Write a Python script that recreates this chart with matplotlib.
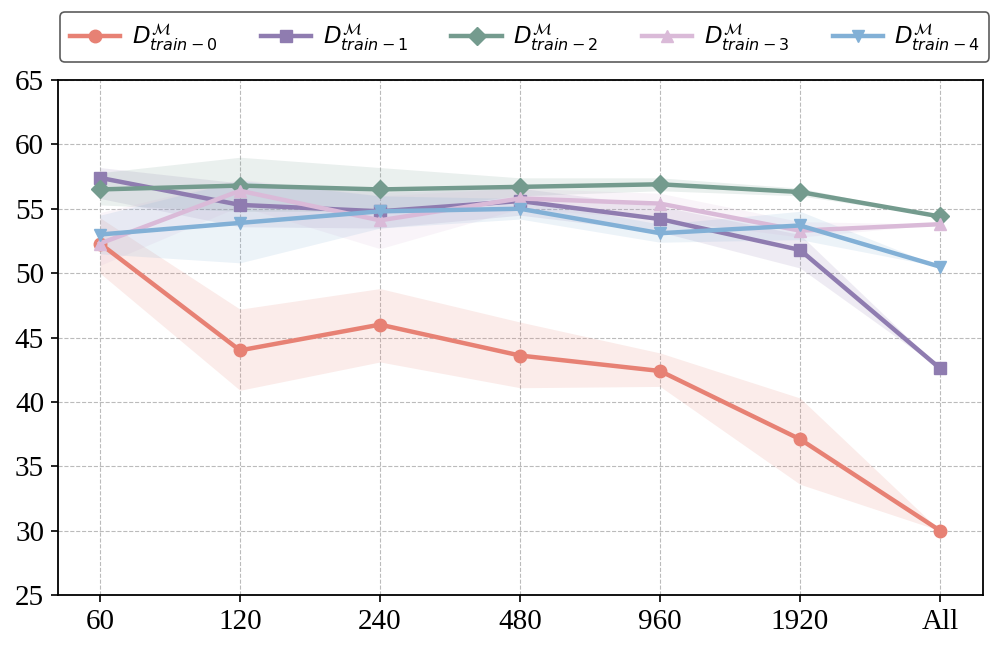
import matplotlib
matplotlib.use("Agg")
import matplotlib.pyplot as plt
import numpy as np

categories = ["60", "120", "240", "480", "960", "1920", "All"]
labels = [r"$D^{\mathcal{M}}_{train-0}$", r"$D^{\mathcal{M}}_{train-1}$", r"$D^{\mathcal{M}}_{train-2}$",
          r"$D^{\mathcal{M}}_{train-3}$", r"$D^{\mathcal{M}}_{train-4}$"]

d0 = [52.3, 44.0, 46.0, 43.6, 42.4, 37.1, 30.0]
d0_lo = [50.0, 40.9, 43.1, 41.1, 41.2, 33.6, 30.0]
d0_hi = [54.3, 47.2, 48.8, 46.2, 43.8, 40.3, 30.0]

d1 = [57.4, 55.3, 54.8, 55.6, 54.2, 51.8, 42.6]
d1_lo = [55.8, 53.6, 53.5, 54.5, 53.2, 50.4, 42.6]
d1_hi = [58.2, 57.0, 56.3, 56.6, 55.2, 53.0, 42.6]

d2 = [56.5, 56.8, 56.5, 56.7, 56.9, 56.3, 54.4]
d2_lo = [55.3, 54.8, 54.8, 56.0, 56.4, 56.0, 54.4]
d2_hi = [57.8, 59.0, 58.2, 57.4, 57.4, 56.6, 54.4]

d3 = [52.3, 56.4, 54.1, 55.8, 55.4, 53.3, 53.8]
d3_lo = [50.6, 55.2, 51.9, 55.0, 54.2, 52.8, 53.8]
d3_hi = [54.7, 57.3, 56.0, 56.6, 56.2, 54.0, 53.8]

d4 = [53.0, 53.9, 54.8, 55.0, 53.1, 53.7, 50.5]
d4_lo = [51.5, 50.8, 53.5, 54.2, 52.4, 52.6, 50.5]
d4_hi = [54.5, 57.2, 56.0, 55.8, 53.8, 54.8, 50.5]

series = [(d0, d0_lo, d0_hi), (d1, d1_lo, d1_hi), (d2, d2_lo, d2_hi), (d3, d3_lo, d3_hi), (d4, d4_lo, d4_hi)]
colors = ["#e78174", "#8f7cb0", "#749b8e", "#dabad8", "#82b0d6"]
markers = ["o", "s", "D", "^", "v"]

fig = plt.figure(figsize=(9.96, 6.51), dpi=100)
ax = fig.add_axes([58/996, 56/651, 925/996, 515/651])
x = np.arange(len(categories))
for (m, lo, hi), c, mk, lab in zip(series, colors, markers, labels):
    ax.fill_between(x, lo, hi, color=c, alpha=0.15, linewidth=0)
    ax.plot(x, m, color=c, marker=mk, lw=3.2, markersize=9, label=lab)

ax.set_xticks(x)
ax.set_xticklabels(categories)
ax.set_xlim(-0.3, 6.307)
ax.set_ylim(25, 65)
ax.set_yticks(np.arange(25, 66, 5))
for t in ax.get_xticklabels() + ax.get_yticklabels():
    t.set_fontfamily("Liberation Serif")
    t.set_fontsize(21)
ax.tick_params(length=5, width=1.2, pad=5)
ax.grid(True, linestyle="--", color="#bbbbbb", linewidth=0.8)
ax.set_axisbelow(True)
for s in ax.spines.values():
    s.set_linewidth(1.3)

leg = fig.legend(loc="upper center", bbox_to_anchor=(0.527, 0.9816), ncol=5, fontsize=16.5,
                 frameon=True, edgecolor="#333333", fancybox=True, handlelength=2.2,
                 handletextpad=0.5, columnspacing=1.9, borderpad=0.4, borderaxespad=0)
leg.get_frame().set_linewidth(1.2)
fig.savefig("out.png", dpi=100)
